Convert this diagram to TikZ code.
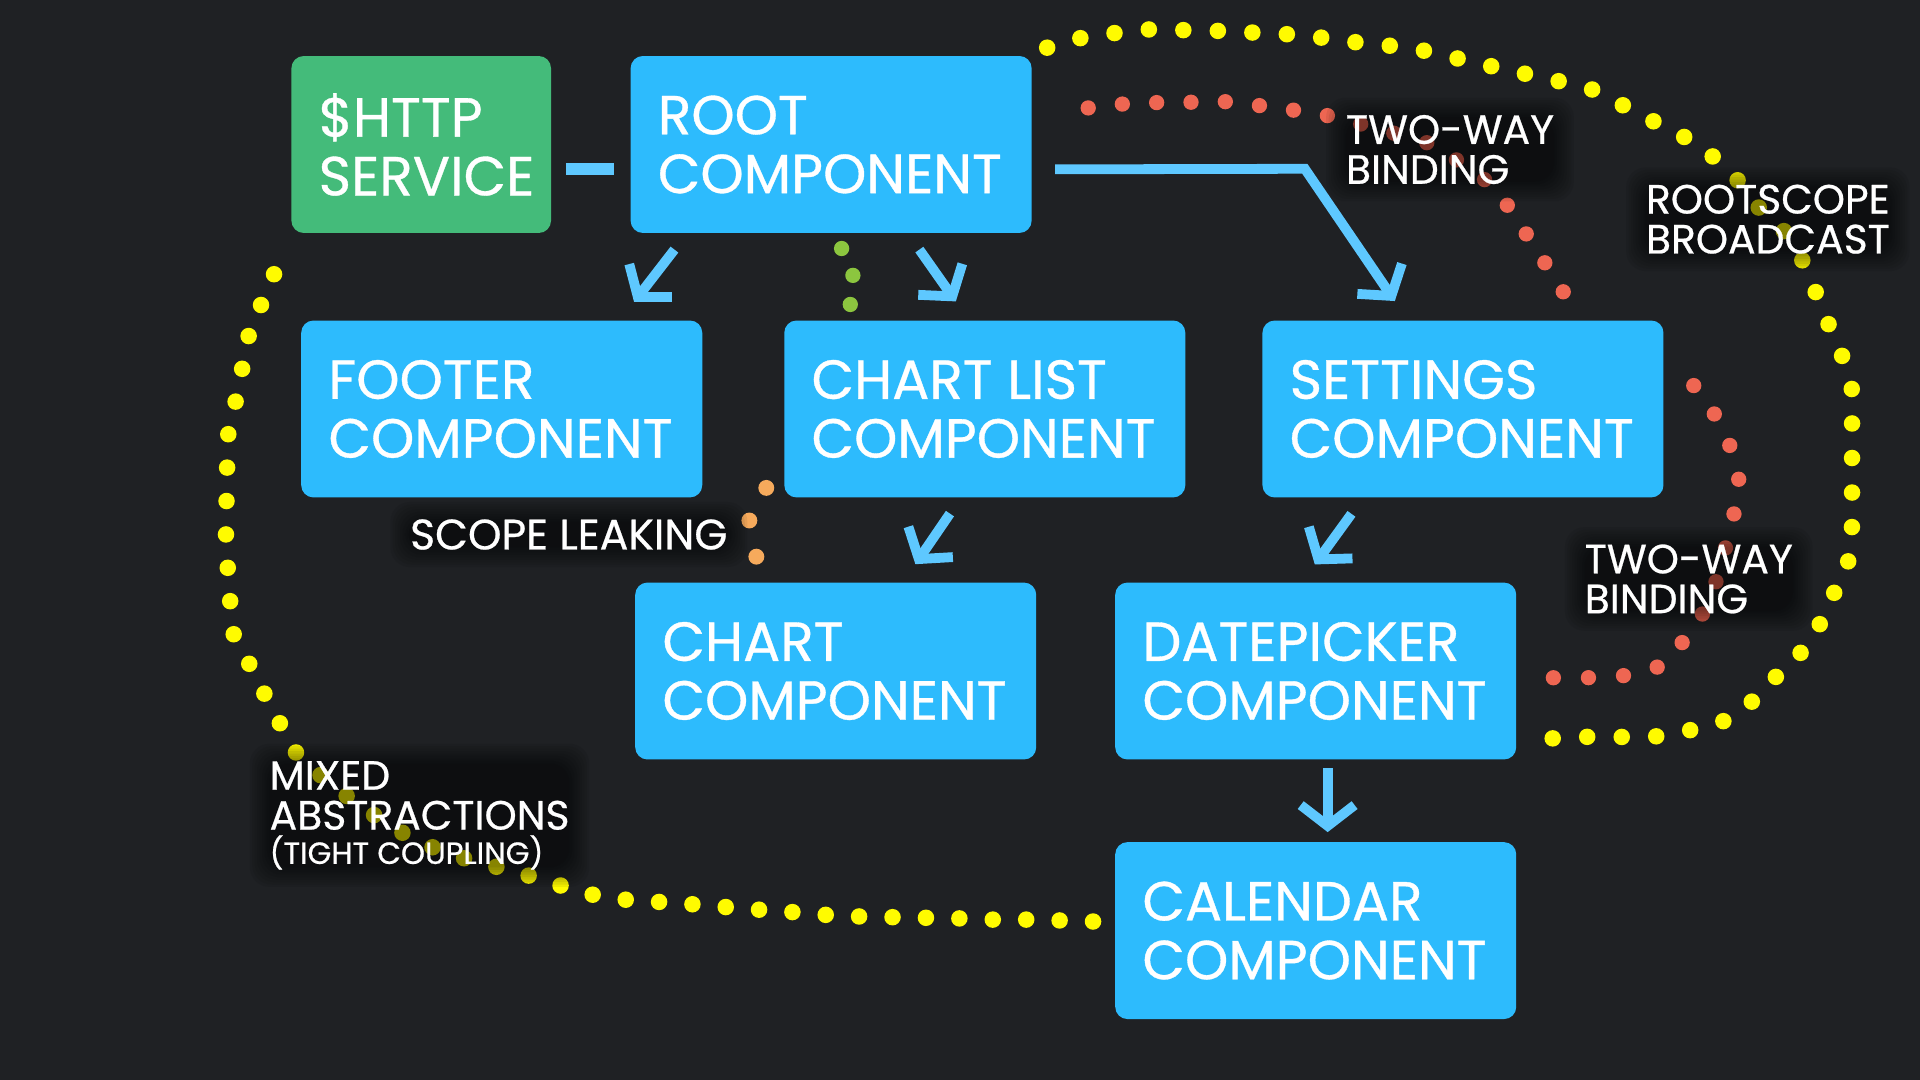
\documentclass[tikz,border=0pt]{standalone}
\usepackage{fontspec}
\newfontfamily\fut[FakeBold=0.6]{Poppins}
\usetikzlibrary{arrows.meta,calc}
\definecolor{bgc}{RGB}{31,33,36}
\definecolor{boxblue}{RGB}{45,187,253}
\definecolor{boxgreen}{RGB}{68,187,122}
\definecolor{lineblue}{RGB}{94,200,255}
\definecolor{dotyellow}{RGB}{255,251,0}
\definecolor{dotred}{RGB}{238,102,82}
\definecolor{dotgreen}{RGB}{140,198,63}
\definecolor{dotorange}{RGB}{246,170,92}
\newcommand\twoline[3]{\makebox[#1][l]{\vtop{\hbox{#2}\hbox{#3}}}}
\newcommand\labtwo[2]{\vtop{\hbox{#1}\hbox{#2}}}
\newcommand\halo[1]{%
  \begin{pgfonlayer}{halo}
  \foreach \d in {0,2,4,6,8,10,12,14,16}{%
    \fill[black, fill opacity=0.065, rounded corners=16pt]
      ($(#1.south west)+(\d,-\d)$) rectangle ($(#1.north east)+(-\d,\d)$);}
  \end{pgfonlayer}}
\pgfdeclarelayer{bg}
\pgfdeclarelayer{halo}
\pgfsetlayers{bg,halo,main}
\begin{document}
\begin{tikzpicture}[x=1pt,y=-1pt,
  compbox/.style={rounded corners=10pt, minimum height=144.5pt, inner xsep=22.25pt, inner ysep=0pt,
    text=white, font=\fut\fontsize{45}{48}\selectfont},
  bluebox/.style={compbox, fill=boxblue, minimum width=327.5pt},
  greenbox/.style={compbox, fill=boxgreen, minimum width=212pt},
  conn/.style={draw=lineblue, line width=8pt, line cap=butt},
  arr/.style={conn, -{Straight Barb[length=17pt,width=44pt,sharp]}},
  dotline/.style={line cap=round, dash pattern=on 0pt off #1},
  ydots/.style={draw=dotyellow, line width=13.5pt, dotline=#1},
  rdots/.style={draw=dotred, line width=12.5pt, dotline=#1},
  gdots/.style={draw=dotgreen, line width=12.5pt, dotline=#1},
  odots/.style={draw=dotorange, line width=13pt, dotline=#1},
  lab/.style={font=\fut\fontsize{33.4}{32.6}\selectfont, text=white, anchor=base west,
    inner xsep=16pt, inner ysep=14pt}
]
\begin{pgfonlayer}{bg}
\fill[bgc] (0,0) rectangle (1568,882);
\end{pgfonlayer}
\useasboundingbox (0,0) rectangle (1568,882);

% component boxes
\node[greenbox] (http) at (344,118) {\twoline{167.5pt}{\$HTTP}{SERVICE}};
\node[bluebox] (root) at (678.75,118) {\twoline{283pt}{ROOT}{COMPONENT}};
\node[bluebox] (footer) at (409.75,334) {\twoline{283pt}{FOOTER}{COMPONENT}};
\node[bluebox] (chartlist) at (804.25,334) {\twoline{283pt}{CHART LIST}{COMPONENT}};
\node[bluebox] (settings) at (1194.75,334) {\twoline{283pt}{SETTINGS}{COMPONENT}};
\node[bluebox] (chart) at (682.5,548) {\twoline{283pt}{CHART}{COMPONENT}};
\node[bluebox] (datepicker) at (1074.5,548) {\twoline{283pt}{DATEPICKER}{COMPONENT}};
\node[bluebox] (calendar) at (1074.5,760) {\twoline{283pt}{CALENDAR}{COMPONENT}};

% named ends of the dotted connectors
\coordinate (y1s) at ($(root.north east)+(12.5,-6.6)$);
\coordinate (y1e) at ($(datepicker.south east)+(27,-17.3)$);
\coordinate (y2s) at ($(http.south west)+(-14,33.5)$);
\coordinate (y2e) at ($(calendar.west)+(-17,-7.4)$);
\coordinate (r1s) at ($(root.north east)+(46,42.6)$);
\coordinate (r1e) at ($(settings.north west)+(246.5,-22.2)$);
\coordinate (r2s) at ($(settings.east)+(24.5,-19.1)$);
\coordinate (r2e) at ($(datepicker.east)+(29.5,5.5)$);
\coordinate (gs) at ($(root.south west)+(172.5,12.5)$);
\coordinate (ge) at ($(chartlist.north west)+(54,-12.3)$);
\coordinate (os) at ($(chartlist.south west)+(-14.5,-8)$);
\coordinate (oe) at ($(chart.north west)+(99.3,-20.4)$);

\begin{pgfonlayer}{bg}
% rootscope broadcast
\draw[ydots=28.2pt] plot[smooth] coordinates {(y1s) (885.5,30.4) (913,26.7) (941.5,23.9) (969,24.7) (996.5,25.3) (1025,26.7) (1053,28.1) (1080.5,30.9) (1108,34.6) (1135.5,37.4) (1164,41.6) (1190.5,47.8) (1217.5,54) (1244,59.9) (1271.5,66) (1300,73) (1325,85.8) (1349,98.4) (1374,111) (1399,128) (1418,146) (1435.5,168.7) (1455.5,187) (1472.5,213.7) (1483,239) (1493,264) (1504,289.6) (1512.5,319) (1512.5,347) (1512.5,374) (1512.5,402) (1512.5,429) (1509,460) (1497.5,485) (1486,510) (1469,535) (1449,554) (1429.5,574) (1404,590.6) (1376.5,597) (1348.5,601.8) (1320.5,601.8) (1293,601.8) (y1e)};
% mixed abstractions
\draw[ydots=27.3pt] plot[smooth] coordinates {(y2s) (213.5,248.3) (203.5,272.8) (198,300) (192.5,327.6) (186.5,354) (185.5,381) (185,408.6) (184.5,434.5) (186,463.5) (188,491) (190,515.5) (202.5,540) (215,564.7) (228,589.5) (240.5,613) (257.5,629.4) (280,647.7) (301.5,663) (326,678.6) (348.5,690) (375,699.7) (401,706.7) (427.5,713.8) (454,722) (481,730) (506.5,734.3) (534,736.3) (562,738.2) (589.5,740.5) (617,742.7) (645,744.7) (672.5,747) (700,748.4) (727.5,749) (755,749.5) (782.5,750) (810,751) (838,751) (865.5,751.7) (y2e)};
% two-way bindings
\draw[rdots=28.05pt] plot[smooth] coordinates {(r1s) (916.5,85) (944,83.8) (972.5,83.5) (1000,83) (1029,86.3) (1056.5,90) (1083,94.2) (1112,101.5) (1139,109) (1166.4,117) (1189.6,130.7) (1212.7,147) (1232.5,169.6) (1248,193.5) (1262.5,216) (r1e)};
\draw[rdots=28.65pt] plot[smooth] coordinates {(r2s) (1399.2,336.7) (1412.3,362.8) (1420,392) (1416,420) (1409,448) (1401.5,474.7) (1390,502) (1374,524.5) (1351.5,546) (1324,552) (1295,553.5) (r2e)};
% green and orange
\draw[gdots=23.9pt] plot[smooth] coordinates {(gs) (696.5,224.4) (ge)};
\draw[odots=30.2pt] plot[smooth] coordinates {(os) (612,424.6) (oe)};
\end{pgfonlayer}

% blue connectors
\draw[conn, line width=9.6pt] ($(http.east)+(12,19.8)$) -- ($(root.west)+(-13,19.8)$);
\draw[arr] ($(root.south west)+(36,13.4)$) -- ($(footer.north west)+(272,-15)$);
\draw[arr] ($(root.south west)+(236,13.4)$) -- ($(chartlist.north west)+(140.3,-15.4)$);
\draw[arr] ($(chartlist.south west)+(135.5,13)$) -- ($(chart.north west)+(229,-14.8)$);
\draw[arr] ($(settings.south west)+(72.9,13.2)$) -- ($(datepicker.north west)+(163.2,-14.6)$);
\draw[arr] ($(datepicker.south west)+(173.7,7)$) -- ($(calendar.north west)+(173.7,-8)$);
\draw[arr] ($(root.east)+(19,20.3)$) -- ($(settings.north west)+(34.8,-123.7)$) -- ($(settings.north west)+(108.3,-15.7)$);

% labels
\node[lab] (twoway1) at (1083,117.5) {\labtwo{TWO-WAY}{BINDING}};
\node[lab] (rootscope) at (1328,174.4) {\labtwo{ROOTSCOPE}{BROADCAST}};
\node[lab, font=\fut\fontsize{34.8}{32.6}\selectfont] (scopeleak) at (318.7,448.7) {SCOPE LEAKING};
\node[lab] (twoway2) at (1278,468.2) {\labtwo{TWO-WAY}{BINDING}};
\node[lab] (mixed) at (204,644.9) {\vtop{\hbox{MIXED}\hbox{ABSTRACTIONS}\vskip-4.6pt\hbox{\fontsize{25}{28}\selectfont (TIGHT COUPLING)}}};
\halo{twoway1}
\halo{rootscope}
\halo{scopeleak}
\halo{twoway2}
\halo{mixed}
\end{tikzpicture}
\end{document}
